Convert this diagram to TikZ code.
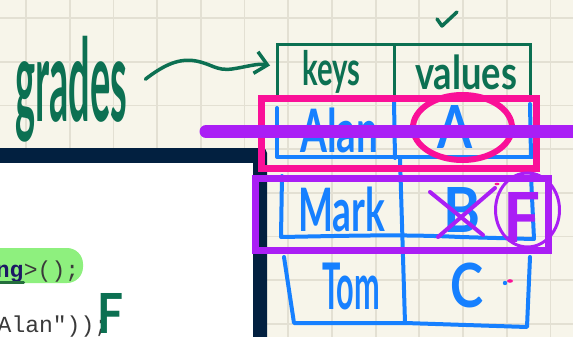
\documentclass[tikz,border=0pt]{standalone}
\usepackage{fontspec}
\usepackage{graphicx}
\setmainfont{Lato}
\newfontfamily\codefont{Liberation Mono}
\usetikzlibrary{arrows.meta,calc}
\XeTeXuseglyphmetrics=1

\definecolor{paper}{RGB}{247,245,234}
\definecolor{gridline}{RGB}{227,224,211}
\definecolor{panel}{RGB}{2,32,64}
\definecolor{inkgreen}{RGB}{12,112,82}
\definecolor{inkblue}{RGB}{22,128,255}
\definecolor{inkpink}{RGB}{250,16,152}
\definecolor{inkpurple}{RGB}{170,30,245}
\definecolor{pillgreen}{RGB}{142,240,126}
\definecolor{codegrey}{RGB}{58,58,58}
\definecolor{typenavy}{RGB}{28,24,100}
\definecolor{underlinegreen}{RGB}{36,110,60}

% handwritten word stretched to a given width and total height
\newcommand{\handword}[3]{\resizebox*{#1pt}{#2pt}{\bfseries #3}}

\tikzset{
  hw/.style={inner sep=0pt, anchor=north west},
  headcell/.style={draw=inkgreen, line width=3pt, inner sep=0pt, anchor=north west, minimum height=56pt},
  bluepen/.style={draw=inkblue, line width=4pt, line cap=round, line join=round},
  pinkpen/.style={draw=inkpink, line width=7pt},
  purplepen/.style={draw=inkpurple, line width=7pt},
  codetext/.style={inner sep=0pt, font=\codefont\fontsize{23}{23}\selectfont, text=codegrey},
}

\begin{document}
\begin{tikzpicture}[x=1pt, y=-1pt]
  % paper with square grid
  \fill[paper] (0,0) rectangle (573,337);
  \useasboundingbox (0,0) rectangle (573,337);
  \foreach \i in {0,...,12}
    \draw[gridline, line width=1.8pt] ({26+43.7*\i},0) -- ({26+43.7*\i},337);
  \foreach \j in {0,...,7}
    \draw[gridline, line width=1.8pt] (0,{18+43.7*\j}) -- (573,{18+43.7*\j});

  % code editor panel
  \fill[panel, rounded corners=5pt] (-20,148) rectangle (267,360);
  \fill[white] (-20,163) rectangle (253,360);
  \begin{scope}
    \clip (0,163) rectangle (253,337);
    \fill[pillgreen, rounded corners=16pt] (-40,248) rectangle (83,283);
    \node[codetext, anchor=base west] (codeA) at (23.7,277) {>();};
    \node[codetext, anchor=base east, font=\codefont\bfseries\fontsize{23}{23}\selectfont, text=typenavy] (typeName) at (codeA.base west) {ng};
    \draw[underlinegreen, line width=3pt, line cap=round] (typeName.south west) -- (typeName.south east);
    \node[codetext, anchor=base west] (codeB) at (-2.5,332) {Alan"));};
  \end{scope}

  % map header: keys | values
  \node[headcell, minimum width=117pt] (keysCell) at (276,43) {};
  \node[headcell, minimum width=136pt] (valuesCell) at (393,43) {};
  \node[hw, text=inkgreen] (keysTxt) at (302,50) {\handword{58}{43}{keys}};
  \node[hw, text=inkgreen] (valuesTxt) at (415,55) {\handword{102}{35}{values}};
  \draw[inkgreen, line width=3.5pt, line cap=round, line join=round] (437,19) -- (442,26) -- (457,12);

  % label and arrow
  \node[hw, text=inkgreen] (grades) at (15,36) {\handword{112}{106}{grades}};
  \draw[inkgreen, line width=3.5pt, line cap=round, -{Straight Barb[length=12pt,width=22pt]}]
    ($(grades.east)+(18,-10)$) .. controls (165,64) and (180,58) .. (196,61)
    .. controls (212,64) and (216,71) .. (232,69)
    .. controls (246,67) and (258,63) .. ($(keysCell.west)+(-6,-7)$);

  % entries drawn in blue
  \draw[bluepen] (277,108) -- (277,157) -- (532,157);
  \draw[bluepen] (394,101) -- (395,158);
  \draw[bluepen] (530,104) -- (531,157);
  \draw[bluepen] (282,176) -- (281,237) .. controls (340,236) and (400,234) .. (460,237) -- (533,239);
  \draw[bluepen] (400,158) -- (405,323);
  \draw[bluepen] (531,176) -- (534,239);
  \draw[bluepen] (284,257) -- (294,323) -- (405,323) -- (527,327) -- (530,257);

  \node[hw, text=inkblue] (alan) at (300,108) {\handword{78}{45}{Alan}};
  \node[hw, text=inkblue] (gradeA) at (437,105) {\handword{35}{43}{A}};
  \node[hw, text=inkblue] (mark) at (298,187) {\handword{87}{45}{Mark}};
  \node[hw, text=inkblue] (gradeB) at (443,187) {\handword{37}{45}{B}};
  \node[hw, text=inkblue] (tom) at (322,263) {\handword{58}{47}{Tom}};
  \node[hw, text=inkblue] (gradeC) at (450,263) {\handword{33}{45}{C}};
  \fill[inkblue] (505,283) circle (2.2);
  \fill[inkpink] (510,281) ellipse [x radius=3, y radius=1.8];
  \fill[inkpink] (497,184) ellipse [x radius=2.5, y radius=1.3];

  % pink highlight of the first entry
  \draw[pinkpen] (261.5,98.5) rectangle (536.5,168.5);
  \draw[inkpink, line width=6pt] (462.5,127.5) ellipse [x radius=49.5, y radius=32.5];

  % purple edits
  \draw[purplepen] (255,178.5) rectangle (548.5,250.5);
  \draw[inkpurple, line width=4pt, line cap=round] (430,192) -- (483,235);
  \draw[inkpurple, line width=4pt, line cap=round] (495,188) -- (438,237);
  \draw[inkpurple, line width=3pt] (527.5,210) ellipse [x radius=32, y radius=37];
  \node[hw, text=inkpurple] (gradeF) at (503,192) {\handword{37}{50}{F}};
  \draw[inkpurple, line width=13pt, line cap=round] (206,131.5) -- (590,131.5);

  % note beside the code
  \node[hw, text=inkgreen] (noteF) at (97,293) {\handword{26}{40}{F}};
\end{tikzpicture}
\end{document}
